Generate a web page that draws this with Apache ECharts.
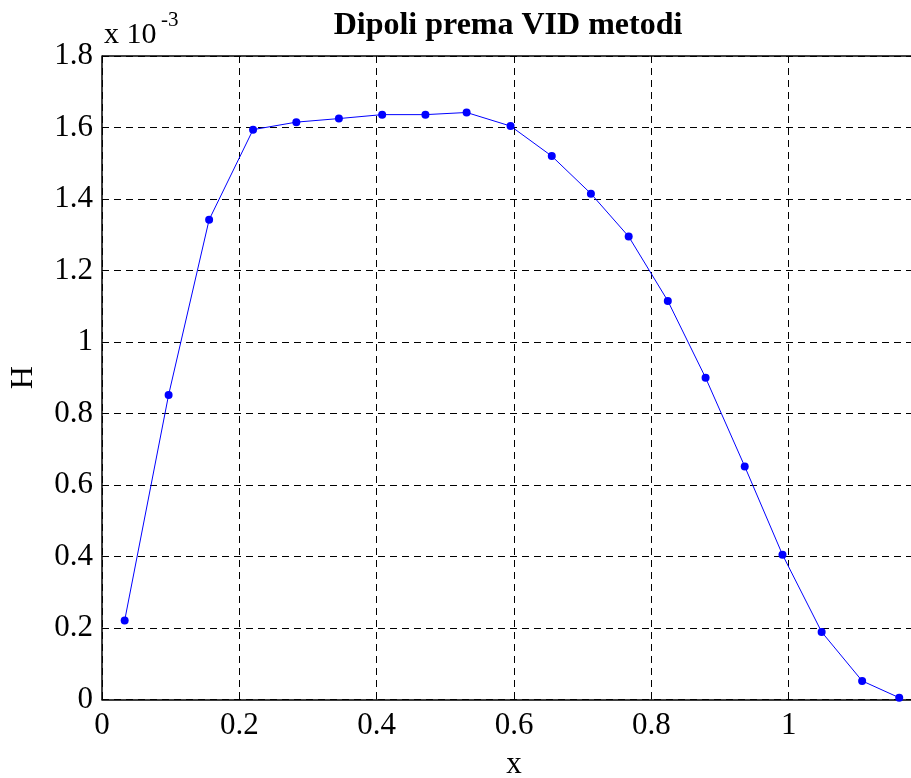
<!DOCTYPE html>
<html>
<head>
<meta charset="utf-8">
<title>Dipoli prema VID metodi</title>
<script src="https://cdn.jsdelivr.net/npm/echarts@6/dist/echarts.min.js"></script>
<style>
  html, body { margin: 0; padding: 0; background: #fff; }
  #chart { width: 911px; height: 778px; }
</style>
</head>
<body>
<div id="chart"></div>
<script>
// x positions of the samples
const xValues = [0.033, 0.097, 0.156, 0.220, 0.283, 0.345, 0.408, 0.471, 0.531, 0.595,
  0.655, 0.712, 0.767, 0.824, 0.879, 0.936, 0.991, 1.048, 1.107, 1.161];
// H values, in units of 10^-3
const hValues = [0.221, 0.852, 1.342, 1.594, 1.615, 1.625, 1.636, 1.636, 1.642, 1.604,
  1.520, 1.415, 1.295, 1.115, 0.900, 0.652, 0.405, 0.189, 0.052, 0.005];
const xTicks = [0, 0.2, 0.4, 0.6, 0.8, 1];
const yTicks = [0, 0.2, 0.4, 0.6, 0.8, 1, 1.2, 1.4, 1.6, 1.8];

const serif = "Liberation Serif, Times New Roman, serif";

const chart = echarts.init(document.getElementById("chart"), null, { renderer: "canvas" });

const gridLine = { show: true, lineStyle: { color: "#000", width: 1, type: [7, 5] } };

chart.setOption({
  animation: false,
  // the plot runs past the right edge of the picture, as in the original
  grid: { left: 102, width: 824, top: 56, height: 643.5, outerBoundsMode: "none", containLabel: false },
  xAxis: {
    type: "value",
    min: 0,
    max: 1.2,
    interval: 0.2,
    axisLine: { show: true, onZero: false, lineStyle: { color: "#000", width: 1.5 } },
    axisTick: { show: true, inside: true, length: 5, lineStyle: { color: "#000" } },
    axisLabel: {
      color: "#000", fontFamily: serif, fontSize: 31, margin: 11,
      showMaxLabel: false,
      formatter: v => (xTicks.includes(+v.toFixed(1)) ? String(+v.toFixed(1)) : "")
    },
    splitLine: gridLine,
    name: "x",
    nameLocation: "middle",
    nameGap: 50,
    nameTextStyle: { color: "#000", fontFamily: serif, fontSize: 31 }
  },
  yAxis: {
    type: "value",
    min: 0,
    max: 1.8,
    interval: 0.2,
    axisLine: { show: true, onZero: false, lineStyle: { color: "#000", width: 1.5 } },
    axisTick: { show: true, inside: true, length: 5, lineStyle: { color: "#000" } },
    axisLabel: {
      color: "#000", fontFamily: serif, fontSize: 31, margin: 9,
      formatter: v => {
        const r = +v.toFixed(1);
        return yTicks.includes(r) ? String(r) : "";
      }
    },
    splitLine: gridLine,
    name: "H",
    nameLocation: "middle",
    nameGap: 62,
    nameTextStyle: { color: "#000", fontFamily: serif, fontSize: 32 }
  },
  graphic: [
    // top frame line
    {
      type: "line",
      shape: { x1: 102, y1: 56, x2: 911, y2: 56 },
      style: { stroke: "#000", lineWidth: 1.5 },
      z: 10
    },
    {
      type: "text",
      x: 508, y: 26,
      style: {
        text: "Dipoli prema VID metodi",
        font: "bold 32px " + serif,
        fill: "#000",
        align: "center",
        verticalAlign: "middle"
      }
    },
    {
      type: "text",
      x: 104, y: 35,
      style: {
        text: "x 10",
        font: "30px " + serif,
        fill: "#000",
        align: "left",
        verticalAlign: "middle"
      }
    },
    {
      type: "text",
      x: 161, y: 20,
      style: {
        text: "-3",
        font: "21px " + serif,
        fill: "#000",
        align: "left",
        verticalAlign: "middle"
      }
    }
  ],
  series: [
    {
      type: "line",
      data: xValues.map((x, i) => [x, hValues[i]]),
      symbol: "circle",
      symbolSize: 8,
      showSymbol: true,
      lineStyle: { color: "#0000ff", width: 1 },
      itemStyle: { color: "#0000ff" },
      z: 5
    }
  ]
});
</script>
</body>
</html>
